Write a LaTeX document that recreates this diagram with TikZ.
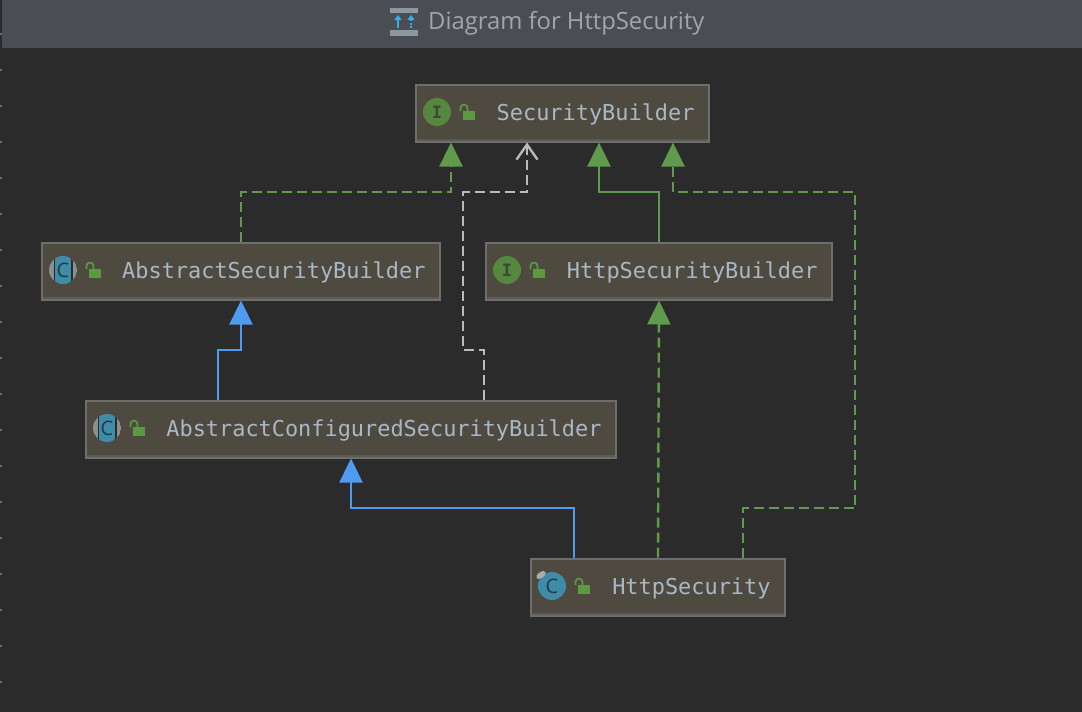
\documentclass[tikz,border=0pt]{standalone}
\usepackage{fontspec}
\setmainfont{Open Sans}
\setmonofont{DejaVu Sans Mono}
\usetikzlibrary{arrows.meta}
\definecolor{canvas}{HTML}{2B2B2B}
\definecolor{titlebar}{HTML}{4A4E54}
\definecolor{titletext}{HTML}{A2A6AA}
\definecolor{boxfill}{HTML}{4E4A40}
\definecolor{boxline}{HTML}{6E6E6C}
\definecolor{boxshade}{HTML}{5C5A54}
\definecolor{labeltext}{HTML}{A9B7C6}
\definecolor{umlgreen}{HTML}{5F9A4D}
\definecolor{umlblue}{HTML}{4F9BF0}
\definecolor{umlgrey}{HTML}{BBBBBB}
\definecolor{lockgreen}{HTML}{5B9A40}
\definecolor{markgreen}{HTML}{55873F}
\definecolor{markteal}{HTML}{3F8CA8}
\definecolor{markgrey}{HTML}{8B8F91}
\definecolor{markpin}{HTML}{A9ADAF}
\definecolor{markdark}{HTML}{23394A}
\definecolor{markink}{HTML}{3A4A34}
\definecolor{iconblue}{HTML}{2DB2EA}
\definecolor{icongrey}{HTML}{8E979F}
\tikzset{
	classbox/.style={draw=boxline, line width=2pt, fill=boxfill, text=labeltext, font=\ttfamily\fontsize{21.9}{24}\selectfont,
		minimum height=57pt, inner xsep=14.5pt, text depth=2pt, align=flush right, outer sep=1pt},
	implements/.style={draw=umlgreen, line width=2.4pt, dash pattern=on 10pt off 5pt, -{Triangle[length=24pt,width=23pt,fill=umlgreen]}},
	refines/.style={draw=umlgreen, line width=2.4pt, -{Triangle[length=24pt,width=23pt,fill=umlgreen]}},
	extends/.style={draw=umlblue, line width=2.4pt, -{Triangle[length=24pt,width=23pt,fill=umlblue]}},
	depends/.style={draw=umlgrey, line width=2.4pt, dash pattern=on 10pt off 5pt, -{Straight Barb[length=15pt,width=21pt]}},
	markletter/.style={text=markdark, font=\fontsize{20}{20}\selectfont, inner sep=0pt},
	markinitial/.style={text=markink, font=\ttfamily\bfseries\fontsize{17}{17}\selectfont, inner sep=0pt},
}
\newcommand{\lockicon}[2]{
	\fill[lockgreen] (#1+26,#2-1) rectangle (#1+38,#2+8);
	\draw[lockgreen, line width=1.7pt] (#1+23.5,#2-1) -- (#1+23.5,#2-4) arc[start angle=180, end angle=360, radius=3.5] -- (#1+30.5,#2-1);
}
\newcommand{\abstractmark}[2]{
	\begin{scope}
		\clip (#1,#2) circle (14);
		\fill[markgrey] (#1-14,#2-14) rectangle (#1+14,#2+14);
		\fill[canvas] (#1-9.5,#2-14) rectangle (#1+9.5,#2+14);
		\fill[markteal] (#1-8,#2-14) rectangle (#1+8,#2+14);
	\end{scope}
}

\begin{document}
\begin{tikzpicture}[x=1pt,y=-1pt]
	\useasboundingbox (0,0) rectangle (1082,712);
	\fill[canvas] (0,0) rectangle (1082,712);
	\fill[titlebar] (2,0) rectangle (1082,48);
	\foreach \y in {33,69,...,681}
		\fill[boxline] (0,\y) rectangle (2,\y+1.5);
	% title
	\fill[icongrey] (390,8) rectangle (418,13);
	\fill[icongrey] (390,30) rectangle (418,36);
	\draw[iconblue, line width=1.5pt, -{Triangle[length=5pt,width=7pt]}] (398,28) -- (398,15);
	\draw[iconblue, line width=1.5pt, dash pattern=on 2pt off 1.5pt, -{Triangle[length=5pt,width=7pt]}] (411,28) -- (411,15);
	\node[text=titletext, font=\fontsize{23.8}{26}\selectfont, anchor=west, inner sep=0pt] (title) at (428,23) {Diagram for HttpSecurity};

	% classes
	\node[classbox, text width=264pt] (sb) at (562.5,113) {SecurityBuilder};
	\node[classbox, text width=369pt] (asb) at (241,271) {AbstractSecurityBuilder};
	\node[classbox, text width=317pt] (hsb) at (659,271) {HttpSecurityBuilder};
	\node[classbox, text width=501pt] (acsb) at (351,429) {AbstractConfiguredSecurityBuilder};
	\node[classbox, text width=225pt] (hs) at (658,587) {HttpSecurity};
	\foreach \n in {sb,asb,hsb,acsb,hs}
		\draw[boxshade, line width=2pt] ([xshift=2pt,yshift=3pt]\n.south west) -- ([xshift=-2pt,yshift=3pt]\n.south east);

	% marks
	\fill[markgreen] (437,112) circle (14);
	\node[markinitial] (sbmark) at (437,112) {I};
	\lockicon{437}{112}
	\abstractmark{63}{270}
	\node[markletter] (asbmark) at (63,270) {C};
	\lockicon{63}{270}
	\fill[markgreen] (507,270) circle (14);
	\node[markinitial] (hsbmark) at (507,270) {I};
	\lockicon{507}{270}
	\abstractmark{107}{428}
	\node[markletter] (acsbmark) at (107,428) {C};
	\lockicon{107}{428}
	\fill[markteal] (552,586) circle (14);
	\node[markletter] (hsmark) at (552,586) {C};
	\fill[markpin, rotate around={35:(541,575)}] (541,575) ellipse (5.5 and 3);
	\lockicon{552}{586}

	% relations
	\draw[implements] (asb.north) |- (451,192) -- ([xshift=-111.5pt]sb.south);
	\draw[depends] ([xshift=133pt]acsb.north) |- (463,350) |- (527,192) -- ([xshift=-35.5pt]sb.south);
	\draw[refines] (hsb.north) |- (599,192) -- ([xshift=36.5pt]sb.south);
	\draw[implements] ([xshift=85pt]hs.north) |- (855,508) |- (673,192) -- ([xshift=110.5pt]sb.south);
	\draw[implements] (hs.north) -- (hsb.south);
	\draw[extends] ([xshift=-133pt]acsb.north) |- (241,350) -- (asb.south);
	\draw[extends] ([xshift=-84pt]hs.north) |- (351,508) -- (acsb.south);
\end{tikzpicture}
\end{document}
